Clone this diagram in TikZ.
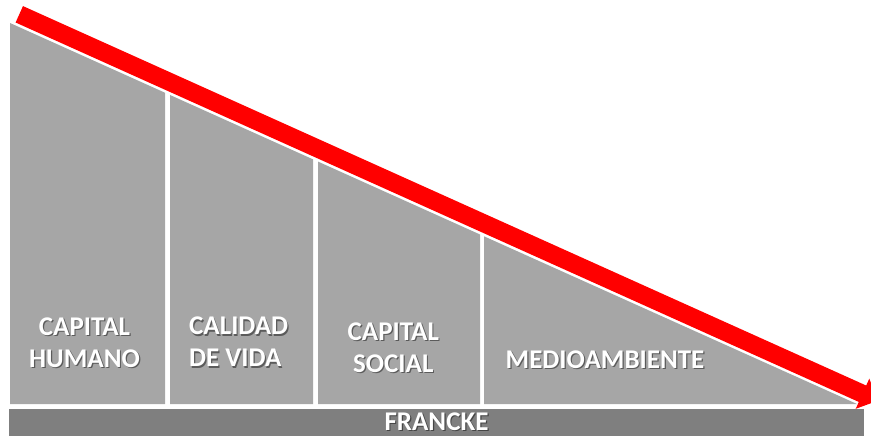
\documentclass[tikz,border=0pt]{standalone}
\usepackage{fontspec}
\setmainfont{Carlito}
\usetikzlibrary{arrows.meta}
\definecolor{colgray}{HTML}{A6A6A6}
\definecolor{bargray}{HTML}{7F7F7F}
\definecolor{arrowred}{HTML}{FF0000}
\begin{document}
\begin{tikzpicture}[x=1pt,y=-1pt,
  lbl/.style={text=white,font=\bfseries\fontsize{27}{32}\selectfont,inner sep=0pt},
  shd/.style={lbl,text=black,text opacity=0.45},
  col/.style={fill=colgray},
  bigarrow/.style={draw=arrowred,line width=18pt,-{Triangle[length=17pt,width=32pt]}}]
\useasboundingbox (0,0) rectangle (871,436);
% columns
\fill[col] (10,23) -- (165,92.75) -- (165,404) -- (10,404) -- cycle;
\fill[col] (170,95) -- (313,159.35) -- (313,404) -- (170,404) -- cycle;
\fill[col] (318,161.6) -- (480,234.5) -- (480,404) -- (318,404) -- cycle;
\fill[col] (484,236.3) -- (857,404) -- (484,404) -- cycle;
% base bar
\fill[bargray] (9,409) rectangle (864,440);
% arrow
\coordinate (as) at (19.3,14.3);
\coordinate (ae) at (878,400.7);
\draw[bigarrow] (as) -- (ae);
% labels
\node[shd,align=center] (s1) at (85.7,344.2) {CAPITAL\\HUMANO};
\node[lbl,align=center] (t1) at (84.5,343) {CAPITAL\\HUMANO};
\node[shd,align=left,anchor=west] (s2) at (190.2,343.2) {CALIDAD\\DE VIDA};
\node[lbl,align=left,anchor=west] (t2) at (189,342) {CALIDAD\\DE VIDA};
\node[shd,align=center] (s3) at (394.5,349.2) {CAPITAL\\SOCIAL};
\node[lbl,align=center] (t3) at (393.3,348) {CAPITAL\\SOCIAL};
\node[shd] (s4) at (606.2,361.2) {MEDIOAMBIENTE};
\node[lbl] (t4) at (605,360) {MEDIOAMBIENTE};
\node[shd] (s5) at (437.7,423.2) {FRANCKE};
\node[lbl] (t5) at (436.5,422) {FRANCKE};
\end{tikzpicture}
\end{document}
